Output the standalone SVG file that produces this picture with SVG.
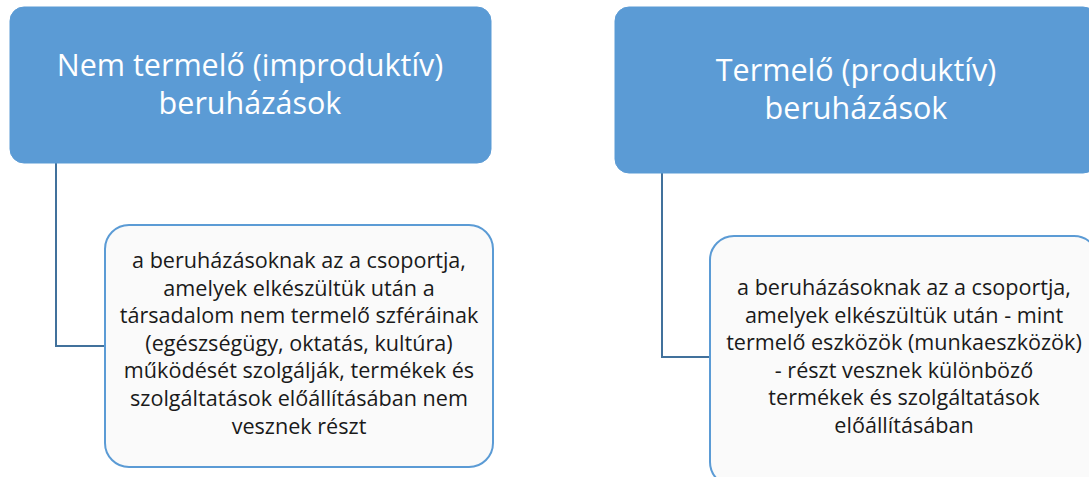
<svg xmlns="http://www.w3.org/2000/svg" width="1089" height="477" viewBox="0 0 1089 477">
<style>
.top{fill:#5b9bd5;stroke:#5b9bd5;stroke-width:1}
.sub{fill:#fafafa;stroke:#5b9bd5;stroke-width:2}
.tt{font-family:"Open Sans","Noto Sans",sans-serif;font-size:30.5px;fill:#ffffff;text-anchor:middle}
.bt{font-family:"Open Sans","Noto Sans",sans-serif;font-size:21.6px;fill:#1a1a1a;text-anchor:middle}
.con{fill:none;stroke:#41719c;stroke-width:2}
</style>
<rect width="1089" height="477" fill="#ffffff"/>
<g id="connectors">
<path class="con" d="M56,163 V346 H105"/>
<path class="con" d="M662,173 V357 H710"/>
</g>
<g id="node-left-top">
<rect class="top" x="10" y="7" width="481" height="156" rx="14"/>
<text class="tt" x="250" y="76">Nem termelő (improduktív)</text>
<text class="tt" x="250" y="114">beruházások</text>
</g>
<g id="node-right-top">
<rect class="top" x="615" y="7" width="482" height="166" rx="14"/>
<text class="tt" x="856" y="81">Termelő (produktív)</text>
<text class="tt" x="856" y="119">beruházások</text>
</g>
<g id="node-left-sub">
<rect class="sub" x="105" y="225" width="388" height="242" rx="24"/>
<text class="bt" x="299" y="268">a beruházásoknak az a csoportja,</text>
<text class="bt" x="299" y="296">amelyek elkészültük után a</text>
<text class="bt" x="299" y="323">társadalom nem termelő szféráinak</text>
<text class="bt" x="299" y="351">(egészségügy, oktatás, kultúra)</text>
<text class="bt" x="299" y="378">működését szolgálják, termékek és</text>
<text class="bt" x="299" y="406">szolgáltatások előállításában nem</text>
<text class="bt" x="299" y="434">vesznek  részt</text>
</g>
<g id="node-right-sub">
<rect class="sub" x="710" y="236" width="388" height="250" rx="24"/>
<text class="bt" x="904" y="295">a beruházásoknak az a csoportja,</text>
<text class="bt" x="904" y="323">amelyek elkészültük után - mint</text>
<text class="bt" x="904" y="350">termelő eszközök (munkaeszközök)</text>
<text class="bt" x="904" y="378">- részt vesznek különböző</text>
<text class="bt" x="904" y="405">termékek és szolgáltatások</text>
<text class="bt" x="904" y="433">előállításában</text>
</g>
</svg>
